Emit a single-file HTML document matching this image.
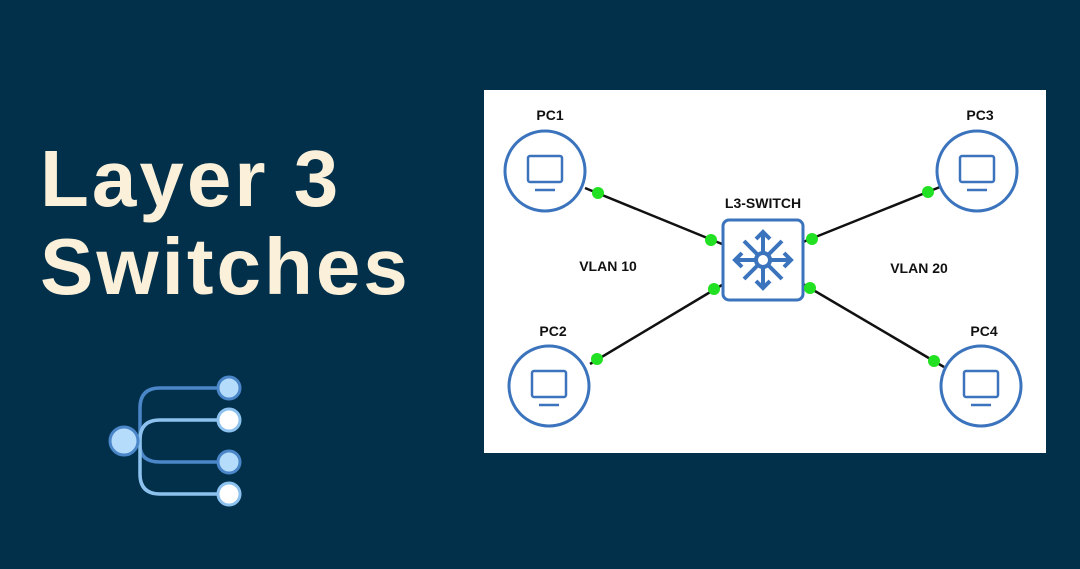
<!DOCTYPE html>
<html><head><style>
body{margin:0;width:1080px;height:569px;background:#02304b;overflow:hidden;font-family:"Liberation Sans",sans-serif}
.t{position:absolute;left:40px;color:#fbf0d9;font-weight:bold;font-size:80px;letter-spacing:3px}
</style></head><body>
<div class="t" style="top:133px">Layer 3</div>
<div class="t" style="top:221px">Switches</div>
<svg width="1080" height="569" style="position:absolute;left:0;top:0">
<g fill="none" stroke-width="3.5">
<path d="M140 441 V408 Q140 388 160 388 H229" stroke="#4a86c8"/>
<path d="M140 441 V440 Q140 420 160 420 H229" stroke="#8ec2ee"/>
<path d="M140 441 V445 Q140 462 160 462 H229" stroke="#4a86c8"/>
<path d="M140 441 V474 Q140 494 160 494 H229" stroke="#8ec2ee"/>
</g>
<circle cx="124" cy="441" r="14" fill="#b5dcfb" stroke="#4a86c8" stroke-width="3"/>
<circle cx="229" cy="388" r="11" fill="#b5dcfb" stroke="#4a86c8" stroke-width="3"/>
<circle cx="229" cy="420" r="11" fill="#fff" stroke="#8ec2ee" stroke-width="3"/>
<circle cx="229" cy="462" r="11" fill="#b5dcfb" stroke="#4a86c8" stroke-width="3"/>
<circle cx="229" cy="494" r="11" fill="#fff" stroke="#8ec2ee" stroke-width="3"/>
<rect x="484" y="90" width="562" height="363" fill="#fff"/>
<g stroke="#111" stroke-width="2.5">
<line x1="585" y1="188" x2="722" y2="244"/>
<line x1="590" y1="364" x2="722" y2="285"/>
<line x1="803" y1="242" x2="940" y2="187"/>
<line x1="803" y1="284" x2="944" y2="367"/>
</g>
<g fill="none" stroke="#3b74bd" stroke-width="3">
<circle cx="545" cy="171" r="40"/><circle cx="977" cy="171" r="40"/>
<circle cx="549" cy="386" r="40"/><circle cx="981" cy="386" r="40"/>
<rect x="723" y="220" width="80" height="80" rx="6" fill="#fff"/>
</g>
<g fill="none" stroke="#3b74bd" stroke-width="2.5">
<rect x="528" y="156" width="34" height="26" rx="2"/><line x1="535" y1="190" x2="555" y2="190"/>
<rect x="960" y="156" width="34" height="26" rx="2"/><line x1="967" y1="190" x2="987" y2="190"/>
<rect x="532" y="371" width="34" height="26" rx="2"/><line x1="539" y1="405" x2="559" y2="405"/>
<rect x="964" y="371" width="34" height="26" rx="2"/><line x1="971" y1="405" x2="991" y2="405"/>
</g>
<g stroke="#3b74bd" stroke-width="4" fill="none">
<circle cx="763" cy="260" r="7"/>
<path d="M763 253V232M763 267V288M756 260H735M770 260H791M758 255L744 241M768 255L782 241M758 265L744 279M768 265L782 279"/>
<path d="M756 239L763 232L770 239M756 281L763 288L770 281M742 253L735 260L742 267M784 253L791 260L784 267"/>
</g>
<g fill="#22e022">
<circle cx="598" cy="193" r="6"/><circle cx="711" cy="240" r="6"/><circle cx="714" cy="289" r="6"/><circle cx="597" cy="359" r="6"/>
<circle cx="812" cy="239" r="6"/><circle cx="928" cy="192" r="6"/><circle cx="810" cy="288" r="6"/><circle cx="934" cy="361" r="6"/>
</g>
<g font-family="Liberation Sans,sans-serif" font-weight="bold" font-size="14" fill="#111" text-anchor="middle">
<text x="550" y="120">PC1</text><text x="980" y="120">PC3</text>
<text x="553" y="336">PC2</text><text x="984" y="336">PC4</text>
<text x="763" y="208">L3-SWITCH</text>
<text x="608" y="271">VLAN 10</text><text x="919" y="273">VLAN 20</text>
</g>
</svg>
</body></html>
